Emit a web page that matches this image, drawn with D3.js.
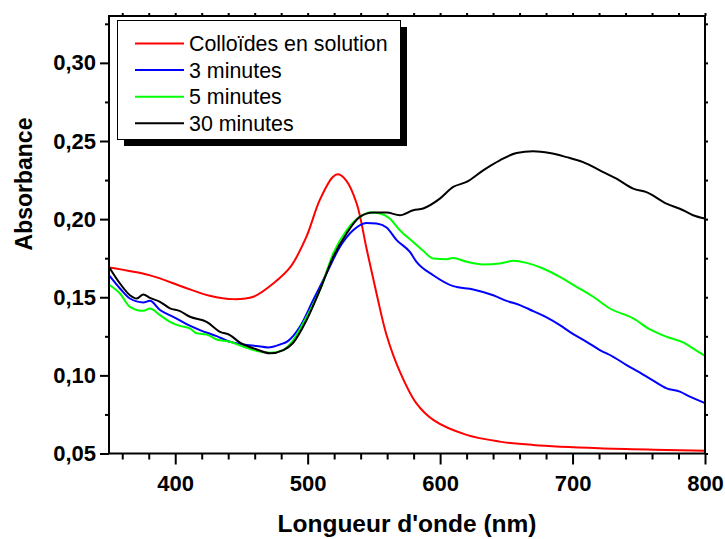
<!DOCTYPE html>
<html><head><meta charset="utf-8">
<script src="https://cdn.jsdelivr.net/npm/d3@7"></script>
<style>body{margin:0;background:#fff}text{font-family:"Liberation Sans",Arial,sans-serif}</style>
</head><body><svg id="c" width="725" height="539"></svg>
<script>
const seriesNames = ["Colloïdes en solution", "3 minutes", "5 minutes", "30 minutes"];
const seriesColors = ["#ff0000", "#0000ff", "#00ff00", "#000000"];
const xTicks = [400, 500, 600, 700, 800];
const yTicks = [0.05, 0.10, 0.15, 0.20, 0.25, 0.30];
const redX = [350,381,406,426,444,459,474,487,499,509,519,523,529,537,544.5,552,559.6,569.6,582,594.8,620,645,670,720,771,800];
const redY = [0.169,0.164,0.1566,0.151,0.1488,0.1503,0.1588,0.1694,0.1886,0.212,0.227,0.2287,0.2248,0.21,0.181,0.1524,0.1257,0.1024,0.0822,0.0715,0.0619,0.0576,0.0555,0.0534,0.0523,0.0517];
const blueX = [350,358.3,365.8,375.9,380.9,388.5,398.5,408.6,418.7,431.3,441.3,451.4,461.5,470.2,479.2,485.3,494.1,504.2,514.2,524.3,534.3,544.4,552,559.6,567.2,577.2,582.2,594.8,609.9,625,640.1,650.2,660.2,670.3,680.4,690.4,700.5,710.6,720.6,730.7,740.8,750.9,760.9,771,781,788.6,800];
const blueY = [0.1641,0.1556,0.1492,0.1467,0.1477,0.1418,0.1375,0.1328,0.129,0.1251,0.1215,0.1198,0.1188,0.1179,0.1198,0.1221,0.1311,0.1482,0.1652,0.1822,0.1929,0.1976,0.1972,0.1946,0.1866,0.1790,0.1726,0.1641,0.1571,0.155,0.1513,0.1477,0.145,0.1411,0.1371,0.1322,0.1264,0.1215,0.1162,0.1119,0.1066,0.1017,0.0966,0.0917,0.0896,0.0864,0.0822];
const greenX = [350,358.3,365.8,375.9,380.9,388.5,396,403.6,411.1,416.2,423.7,431.3,441.3,451.4,461.5,471.5,481.6,489.1,499.2,509.2,519.3,529.4,539.4,547,554.5,562,569.6,579.7,587.2,594.8,604.9,609.9,620,632.5,645.1,655.2,665.3,677.8,690.4,703,715.6,728.3,745.8,758.5,771,783.5,791,800];
const greenY = [0.158,0.1524,0.1439,0.1413,0.1428,0.1386,0.1343,0.1317,0.1301,0.1269,0.1262,0.123,0.1215,0.1183,0.1156,0.1145,0.1162,0.1226,0.1375,0.1545,0.178,0.1929,0.2014,0.2042,0.2036,0.2004,0.1929,0.1854,0.1797,0.1748,0.1744,0.1752,0.1727,0.171,0.1716,0.1733,0.172,0.1684,0.163,0.1567,0.1503,0.1428,0.1365,0.1294,0.1247,0.1211,0.1173,0.1124];
const blackX = [350,358.3,365.8,370.9,375.9,380.9,388.5,396,403.6,411.1,423.7,433.8,441.3,448.9,461.5,471.5,481.6,489.1,499.2,509.2,519.3,529.4,539.4,549.5,559.6,569.6,579.7,587.2,599.8,609.9,620,632.5,645.1,657.7,670.2,682.8,695.4,708,720.6,733.2,745.8,755.8,770.9,783.5,791,800];
const blackY = [0.1694,0.1588,0.1513,0.1492,0.1518,0.1496,0.1471,0.1429,0.1411,0.1375,0.1343,0.1279,0.1258,0.1209,0.1166,0.1141,0.1162,0.1209,0.1354,0.1545,0.1758,0.1908,0.2014,0.2042,0.2042,0.2025,0.2057,0.2068,0.2131,0.2206,0.2238,0.2312,0.2376,0.2423,0.2434,0.2423,0.2397,0.2365,0.2312,0.2259,0.2195,0.2173,0.2099,0.2057,0.2025,0.2004];

const allX = [redX, blueX, greenX, blackX];
const allY = [redY, blueY, greenY, blackY];

const L = 109, R = 705, T = 16, B = 453.5;
const svg = d3.select("#c");
const x = d3.scaleLinear().domain([350, 800]).range([L, R]);
const y = d3.scaleLinear().domain([0.05, 0.33]).range([B, T]);
const fmt = d => d3.format(".2f")(d).replace(".", ",");
const xMinor = d3.range(360, 801, 20);
const yMinor = d3.range(0, 12).map(i => 0.075 + i * 0.05).filter(v => v < 0.33);
const yAll = d3.range(0, 12).map(i => +(0.05 + i * 0.025).toFixed(3)).filter(v => v <= 0.33);

// data lines
const g = svg.append("g");
allX.forEach((xs, i) => {
  const pts = xs.map((v, j) => [v, allY[i][j]]);
  const line = d3.line().x(d => x(d[0])).y(d => y(d[1]))
    .curve(i === 0 ? d3.curveCatmullRom.alpha(0.5) : d3.curveMonotoneX);
  g.append("path").attr("d", line(pts)).attr("fill", "none")
    .attr("stroke", seriesColors[i]).attr("stroke-width", 2);
});

// axes
function styleAxis(sel) {
  sel.select(".domain").remove();
  sel.selectAll("line").attr("stroke", "#000").attr("stroke-width", 2);
  sel.selectAll("text").attr("font-size", 22).attr("font-weight", "bold").attr("fill", "#000");
}
svg.append("g").attr("transform", `translate(0,${B})`)
  .call(d3.axisBottom(x).tickValues(xMinor.filter(v => v % 100 !== 0)).tickSize(6).tickFormat(""))
  .call(styleAxis);
svg.append("g").attr("transform", `translate(0,${B})`)
  .call(d3.axisBottom(x).tickValues(xTicks).tickSize(11).tickPadding(11).tickFormat(d3.format("d")))
  .call(styleAxis);
svg.append("g").attr("transform", `translate(${L},0)`)
  .call(d3.axisLeft(y).tickValues(yMinor).tickSize(4).tickFormat(""))
  .call(styleAxis);
svg.append("g").attr("transform", `translate(${L},0)`)
  .call(d3.axisLeft(y).tickValues(yTicks).tickSize(9).tickPadding(4).tickFormat(fmt))
  .call(styleAxis);
svg.append("g").attr("transform", `translate(0,${T})`)
  .call(d3.axisTop(x).tickValues(xMinor).tickSize(3).tickFormat(""))
  .call(styleAxis);
svg.append("g").attr("transform", `translate(${R},0)`)
  .call(d3.axisRight(y).tickValues(yAll).tickSize(3).tickFormat(""))
  .call(styleAxis);

// frame
svg.append("rect").attr("x", L).attr("y", T).attr("width", R - L).attr("height", B - T)
  .attr("fill", "none").attr("stroke", "#000").attr("stroke-width", 2);

// legend
const lg = svg.append("g");
lg.append("rect").attr("x", 124).attr("y", 27).attr("width", 283).attr("height", 119).attr("fill", "#000");
lg.append("rect").attr("x", 117.5).attr("y", 20.5).attr("width", 283).attr("height", 119)
  .attr("fill", "#fff").attr("stroke", "#000").attr("stroke-width", 1);
seriesNames.forEach((n, i) => {
  const yy = 43.5 + i * 26.6;
  lg.append("line").attr("x1", 135).attr("x2", 184).attr("y1", yy).attr("y2", yy)
    .attr("stroke", seriesColors[i]).attr("stroke-width", 2);
  lg.append("text").attr("x", 189).attr("y", yy).attr("dy", "0.35em")
    .attr("font-size", 21.4).attr("fill", "#000").text(n);
});

// titles
svg.append("text").attr("x", (L + R) / 2).attr("y", 532).attr("text-anchor", "middle")
  .attr("font-size", 24.5).attr("font-weight", "bold").text("Longueur d'onde (nm)");
svg.append("text").attr("transform", "translate(32,184) rotate(-90)").attr("text-anchor", "middle")
  .attr("font-size", 23).attr("font-weight", "bold").text("Absorbance");
</script></body></html>
